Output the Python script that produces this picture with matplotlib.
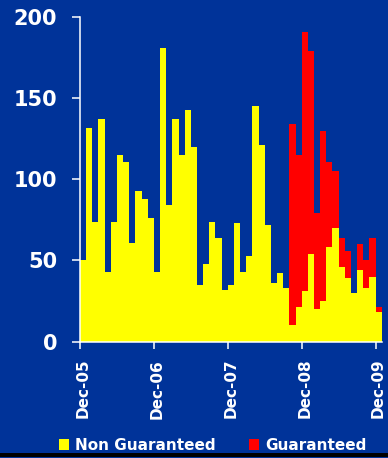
import pandas as pd
import matplotlib.pyplot as plt
from matplotlib.patches import Patch, Rectangle

# monthly issuance, Dec-05 to Dec-09
months = pd.date_range('2005-12-01', '2009-12-01', freq='MS').strftime('%b-%y').tolist()

non_guaranteed = [50, 132, 74, 137, 43, 74, 115, 111, 61, 93, 88, 76, 43,
                  181, 84, 137, 115, 143, 120, 35, 48, 74, 64, 32, 35,
                  73, 43, 53, 145, 121, 72, 36, 42, 33, 10, 21, 31,
                  54, 20, 25, 58, 70, 46, 39, 30, 44, 33, 40, 18]

guaranteed = [0] * 34 + [124, 94, 160, 125, 59, 105, 53, 35, 18, 17, 0, 16, 17, 24, 3]

bg = '#003399'
yellow = '#ffff00'
red = '#ff0000'

fig = plt.figure(figsize=(3.88, 4.58), dpi=100, facecolor=bg)
ax = fig.add_axes([80/388, 1 - 341.5/458, 301.7/388, 324.2/458])
ax.set_facecolor(bg)

x = range(len(months))
ax.bar(x, non_guaranteed, width=1.0, color=yellow, linewidth=0, antialiased=False)
ax.bar(x, guaranteed, width=1.0, bottom=non_guaranteed, color=red,
       linewidth=0, antialiased=False)

ax.set_xlim(-0.5, len(months) - 0.5)
ax.set_ylim(0, 200)
ax.set_yticks([0, 50, 100, 150, 200])

for side in ['top', 'right']:
    ax.spines[side].set_visible(False)
for side in ['left', 'bottom']:
    ax.spines[side].set_color('white')
    ax.spines[side].set_linewidth(1.1)

ax.tick_params(axis='y', colors='white', length=5.8, width=1.1, pad=10.5,
               labelsize=15)
for lbl in ax.get_yticklabels():
    lbl.set_fontweight('bold')

# year labels at the December bars, tick marks on the bar edges
dec_idx = [i for i, m in enumerate(months) if m.startswith('Dec')]
ax.set_xticks(dec_idx)
ax.set_xticklabels([months[i] for i in dec_idx], rotation=90, fontsize=11,
                   fontweight='bold', color='white')
ax.tick_params(axis='x', which='major', length=0, pad=12.5)
ax.set_xticks([i - 0.5 for i in dec_idx], minor=True)
ax.tick_params(axis='x', which='minor', colors='white', length=5, width=1.1)

handles = [Patch(facecolor=yellow, label='Non Guaranteed'),
           Patch(facecolor=red, label='Guaranteed')]
leg = fig.legend(handles=handles, loc='center', bbox_to_anchor=(0.549, 1 - 445/458),
                 ncol=2, frameon=False, handlelength=0.65,
                 handleheight=0.7, handletextpad=0.4, columnspacing=2.2,
                 prop={'weight': 'bold', 'size': 11})
for t in leg.get_texts():
    t.set_color('white')

fig.add_artist(Rectangle((0, 1.5/458), 1, 3.5/458, transform=fig.transFigure,
                         facecolor='black', edgecolor='none'))

fig.savefig('out.png', dpi=100, facecolor=bg)
